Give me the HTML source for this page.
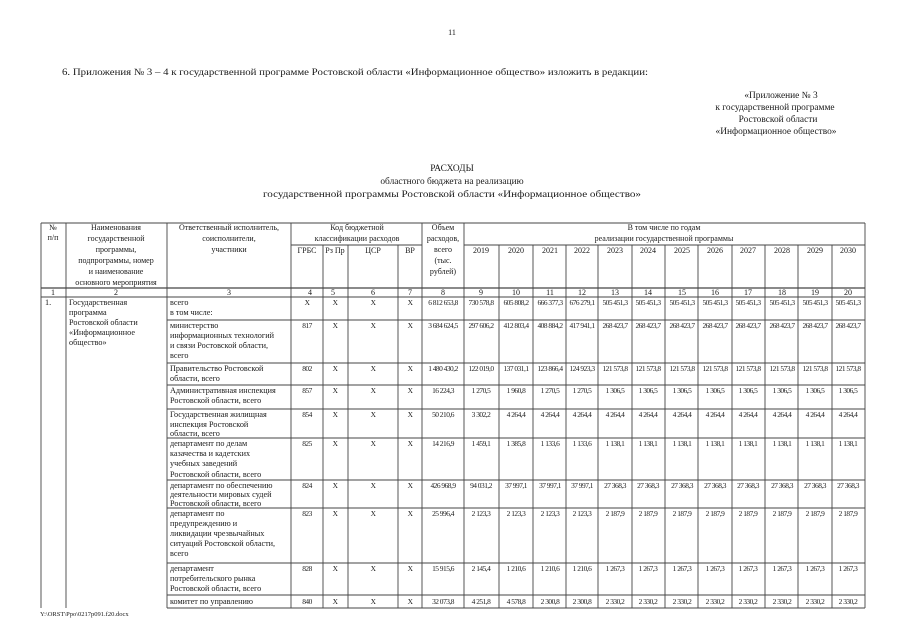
<!DOCTYPE html>
<html><head><meta charset="utf-8"><style>
html,body{margin:0;padding:0;background:#fff;}
svg{display:block;}
text{font-family:"Liberation Serif",serif;fill:#1a1a1a;}
.h{font-size:8px;text-anchor:middle;}
.t{font-size:8.2px;}
.n{font-size:7.4px;text-anchor:middle;letter-spacing:-0.5px;}
.c{text-anchor:middle;}
line{stroke:#444;stroke-width:0.9;}
</style></head><body>
<svg width="905" height="640" viewBox="0 0 905 640" xmlns="http://www.w3.org/2000/svg">
<text x="452" y="35" style="font-size:8px" class="c">11</text>
<text x="62" y="75" style="font-size:9.6px" textLength="586" lengthAdjust="spacingAndGlyphs">6. Приложения № 3 – 4 к государственной программе Ростовской области «Информационное общество» изложить в редакции:</text>
<g style="font-size:9.4px">
<text x="781" y="98" class="c">«Приложение № 3</text>
<text x="775" y="110" class="c">к государственной программе</text>
<text x="778" y="122" class="c">Ростовской области</text>
<text x="776" y="134" class="c">«Информационное общество»</text>
<text x="452" y="171" class="c">РАСХОДЫ</text>
<text x="452" y="184" class="c">областного бюджета на реализацию</text>
<text x="452" y="197" class="c" textLength="378" lengthAdjust="spacingAndGlyphs">государственной программы Ростовской области «Информационное общество»</text>
</g>
<g>
<line x1="41" y1="223" x2="865" y2="223"/>
<line x1="291" y1="245" x2="422" y2="245"/>
<line x1="464" y1="245" x2="865" y2="245"/>
<line x1="41" y1="288" x2="865" y2="288" style="stroke-width:1.3"/>
<line x1="41" y1="297" x2="865" y2="297"/>
<line x1="167" y1="320" x2="865" y2="320"/>
<line x1="167" y1="363" x2="865" y2="363"/>
<line x1="167" y1="385" x2="865" y2="385"/>
<line x1="167" y1="409" x2="865" y2="409"/>
<line x1="167" y1="438" x2="865" y2="438"/>
<line x1="167" y1="480" x2="865" y2="480"/>
<line x1="167" y1="508" x2="865" y2="508"/>
<line x1="167" y1="563" x2="865" y2="563"/>
<line x1="167" y1="595" x2="865" y2="595"/>
<line x1="167" y1="608" x2="865" y2="608"/>
<line x1="41" y1="223" x2="41" y2="608"/>
<line x1="66" y1="223" x2="66" y2="608"/>
<line x1="167" y1="223" x2="167" y2="608"/>
<line x1="291" y1="223" x2="291" y2="608"/>
<line x1="323" y1="245" x2="323" y2="608"/>
<line x1="348" y1="245" x2="348" y2="608"/>
<line x1="398" y1="245" x2="398" y2="608"/>
<line x1="422" y1="223" x2="422" y2="608"/>
<line x1="464" y1="223" x2="464" y2="608"/>
<line x1="499" y1="245" x2="499" y2="608"/>
<line x1="533" y1="245" x2="533" y2="608"/>
<line x1="566" y1="245" x2="566" y2="608"/>
<line x1="598" y1="245" x2="598" y2="608"/>
<line x1="632" y1="245" x2="632" y2="608"/>
<line x1="665" y1="245" x2="665" y2="608"/>
<line x1="698" y1="245" x2="698" y2="608"/>
<line x1="732" y1="245" x2="732" y2="608"/>
<line x1="765" y1="245" x2="765" y2="608"/>
<line x1="798" y1="245" x2="798" y2="608"/>
<line x1="832" y1="245" x2="832" y2="608"/>
<line x1="865" y1="223" x2="865" y2="608"/>
</g>
<g class="h">
<text x="53" y="230">№</text><text x="53" y="240">п/п</text>
<text x="116" y="230">Наименования</text><text x="116" y="241">государственной</text><text x="116" y="252">программы,</text><text x="116" y="263">подпрограммы, номер</text><text x="116" y="274">и наименование</text><text x="116" y="285">основного мероприятия</text>
<text x="229" y="230">Ответственный исполнитель,</text><text x="229" y="241">соисполнители,</text><text x="229" y="252">участники</text>
<text x="357" y="230">Код бюджетной</text><text x="357" y="241">классификации расходов</text>
<text x="307" y="253">ГРБС</text><text x="335" y="253">Рз Пр</text><text x="373" y="253">ЦСР</text><text x="410" y="253">ВР</text>
<text x="443" y="230">Объем</text><text x="443" y="241">расходов,</text><text x="443" y="252">всего</text><text x="443" y="263">(тыс.</text><text x="443" y="274">рублей)</text>
<text x="664" y="230">В том числе по годам</text><text x="664" y="241">реализации государственной программы</text>
<text x="481" y="253">2019</text><text x="516" y="253">2020</text><text x="550" y="253">2021</text><text x="582" y="253">2022</text><text x="615" y="253">2023</text><text x="648" y="253">2024</text><text x="682" y="253">2025</text><text x="715" y="253">2026</text><text x="748" y="253">2027</text><text x="782" y="253">2028</text><text x="815" y="253">2029</text><text x="848" y="253">2030</text>
<text x="53" y="295">1</text><text x="116" y="295">2</text><text x="229" y="295">3</text><text x="310" y="295">4</text><text x="333" y="295">5</text><text x="373" y="295">6</text><text x="410" y="295">7</text><text x="443" y="295">8</text>
<text x="481" y="295">9</text><text x="516" y="295">10</text><text x="550" y="295">11</text><text x="582" y="295">12</text><text x="615" y="295">13</text><text x="648" y="295">14</text><text x="682" y="295">15</text><text x="715" y="295">16</text><text x="748" y="295">17</text><text x="782" y="295">18</text><text x="815" y="295">19</text><text x="848" y="295">20</text>
</g>
<g class="t">
<text x="45" y="305">1.</text>
<text x="69" y="305">Государственная</text><text x="69" y="315">программа</text><text x="69" y="325">Ростовской области</text><text x="69" y="335">«Информационное</text><text x="69" y="345">общество»</text>
<text x="170" y="305">всего</text><text x="170" y="315">в том числе:</text>
<text x="170" y="328">министерство</text><text x="170" y="338">информационных технологий</text><text x="170" y="348">и связи Ростовской области,</text><text x="170" y="358">всего</text>
<text x="170" y="371">Правительство Ростовской</text><text x="170" y="381">области, всего</text>
<text x="170" y="393">Административная инспекция</text><text x="170" y="403">Ростовской области, всего</text>
<text x="170" y="417">Государственная жилищная</text><text x="170" y="427">инспекция Ростовской</text><text x="170" y="436">области, всего</text>
<text x="170" y="446">департамент по делам</text><text x="170" y="456">казачества и кадетских</text><text x="170" y="466">учебных заведений</text><text x="170" y="477">Ростовской области, всего</text>
<text x="170" y="488">департамент по обеспечению</text><text x="170" y="497">деятельности мировых судей</text><text x="170" y="506">Ростовской области, всего</text>
<text x="170" y="516">департамент по</text><text x="170" y="526">предупреждению и</text><text x="170" y="536">ликвидации чрезвычайных</text><text x="170" y="546">ситуаций Ростовской области,</text><text x="170" y="556">всего</text>
<text x="170" y="571">департамент</text><text x="170" y="581">потребительского рынка</text><text x="170" y="591">Ростовской области, всего</text>
<text x="170" y="604">комитет по управлению</text>
</g>
<g class="n">
<text x="307" y="305">Х</text><text x="335" y="305">Х</text><text x="373" y="305">Х</text><text x="410" y="305">Х</text><text x="443" y="305">6 812 653,8</text>
<text x="481" y="305">730 578,8</text><text x="516" y="305">605 808,2</text><text x="550" y="305">666 377,3</text><text x="582" y="305">676 279,1</text><text x="615" y="305">505 451,3</text><text x="648" y="305">505 451,3</text><text x="682" y="305">505 451,3</text><text x="715" y="305">505 451,3</text><text x="748" y="305">505 451,3</text><text x="782" y="305">505 451,3</text><text x="815" y="305">505 451,3</text><text x="848" y="305">505 451,3</text>

<text x="307" y="328">817</text><text x="335" y="328">Х</text><text x="373" y="328">Х</text><text x="410" y="328">Х</text><text x="443" y="328">3 684 624,5</text>
<text x="481" y="328">297 606,2</text><text x="516" y="328">412 803,4</text><text x="550" y="328">408 884,2</text><text x="582" y="328">417 941,1</text><text x="615" y="328">268 423,7</text><text x="648" y="328">268 423,7</text><text x="682" y="328">268 423,7</text><text x="715" y="328">268 423,7</text><text x="748" y="328">268 423,7</text><text x="782" y="328">268 423,7</text><text x="815" y="328">268 423,7</text><text x="848" y="328">268 423,7</text>

<text x="307" y="371">802</text><text x="335" y="371">Х</text><text x="373" y="371">Х</text><text x="410" y="371">Х</text><text x="443" y="371">1 480 430,2</text>
<text x="481" y="371">122 019,0</text><text x="516" y="371">137 031,1</text><text x="550" y="371">123 866,4</text><text x="582" y="371">124 923,3</text><text x="615" y="371">121 573,8</text><text x="648" y="371">121 573,8</text><text x="682" y="371">121 573,8</text><text x="715" y="371">121 573,8</text><text x="748" y="371">121 573,8</text><text x="782" y="371">121 573,8</text><text x="815" y="371">121 573,8</text><text x="848" y="371">121 573,8</text>

<text x="307" y="393">857</text><text x="335" y="393">Х</text><text x="373" y="393">Х</text><text x="410" y="393">Х</text><text x="443" y="393">16 224,3</text>
<text x="481" y="393">1 270,5</text><text x="516" y="393">1 960,8</text><text x="550" y="393">1 270,5</text><text x="582" y="393">1 270,5</text><text x="615" y="393">1 306,5</text><text x="648" y="393">1 306,5</text><text x="682" y="393">1 306,5</text><text x="715" y="393">1 306,5</text><text x="748" y="393">1 306,5</text><text x="782" y="393">1 306,5</text><text x="815" y="393">1 306,5</text><text x="848" y="393">1 306,5</text>

<text x="307" y="417">854</text><text x="335" y="417">Х</text><text x="373" y="417">Х</text><text x="410" y="417">Х</text><text x="443" y="417">50 210,6</text>
<text x="481" y="417">3 302,2</text><text x="516" y="417">4 264,4</text><text x="550" y="417">4 264,4</text><text x="582" y="417">4 264,4</text><text x="615" y="417">4 264,4</text><text x="648" y="417">4 264,4</text><text x="682" y="417">4 264,4</text><text x="715" y="417">4 264,4</text><text x="748" y="417">4 264,4</text><text x="782" y="417">4 264,4</text><text x="815" y="417">4 264,4</text><text x="848" y="417">4 264,4</text>

<text x="307" y="446">825</text><text x="335" y="446">Х</text><text x="373" y="446">Х</text><text x="410" y="446">Х</text><text x="443" y="446">14 216,9</text>
<text x="481" y="446">1 459,1</text><text x="516" y="446">1 385,8</text><text x="550" y="446">1 133,6</text><text x="582" y="446">1 133,6</text><text x="615" y="446">1 138,1</text><text x="648" y="446">1 138,1</text><text x="682" y="446">1 138,1</text><text x="715" y="446">1 138,1</text><text x="748" y="446">1 138,1</text><text x="782" y="446">1 138,1</text><text x="815" y="446">1 138,1</text><text x="848" y="446">1 138,1</text>

<text x="307" y="488">824</text><text x="335" y="488">Х</text><text x="373" y="488">Х</text><text x="410" y="488">Х</text><text x="443" y="488">426 968,9</text>
<text x="481" y="488">94 031,2</text><text x="516" y="488">37 997,1</text><text x="550" y="488">37 997,1</text><text x="582" y="488">37 997,1</text><text x="615" y="488">27 368,3</text><text x="648" y="488">27 368,3</text><text x="682" y="488">27 368,3</text><text x="715" y="488">27 368,3</text><text x="748" y="488">27 368,3</text><text x="782" y="488">27 368,3</text><text x="815" y="488">27 368,3</text><text x="848" y="488">27 368,3</text>

<text x="307" y="516">823</text><text x="335" y="516">Х</text><text x="373" y="516">Х</text><text x="410" y="516">Х</text><text x="443" y="516">25 996,4</text>
<text x="481" y="516">2 123,3</text><text x="516" y="516">2 123,3</text><text x="550" y="516">2 123,3</text><text x="582" y="516">2 123,3</text><text x="615" y="516">2 187,9</text><text x="648" y="516">2 187,9</text><text x="682" y="516">2 187,9</text><text x="715" y="516">2 187,9</text><text x="748" y="516">2 187,9</text><text x="782" y="516">2 187,9</text><text x="815" y="516">2 187,9</text><text x="848" y="516">2 187,9</text>

<text x="307" y="571">828</text><text x="335" y="571">Х</text><text x="373" y="571">Х</text><text x="410" y="571">Х</text><text x="443" y="571">15 915,6</text>
<text x="481" y="571">2 145,4</text><text x="516" y="571">1 210,6</text><text x="550" y="571">1 210,6</text><text x="582" y="571">1 210,6</text><text x="615" y="571">1 267,3</text><text x="648" y="571">1 267,3</text><text x="682" y="571">1 267,3</text><text x="715" y="571">1 267,3</text><text x="748" y="571">1 267,3</text><text x="782" y="571">1 267,3</text><text x="815" y="571">1 267,3</text><text x="848" y="571">1 267,3</text>

<text x="307" y="604">840</text><text x="335" y="604">Х</text><text x="373" y="604">Х</text><text x="410" y="604">Х</text><text x="443" y="604">32 073,8</text>
<text x="481" y="604">4 251,8</text><text x="516" y="604">4 578,8</text><text x="550" y="604">2 300,8</text><text x="582" y="604">2 300,8</text><text x="615" y="604">2 330,2</text><text x="648" y="604">2 330,2</text><text x="682" y="604">2 330,2</text><text x="715" y="604">2 330,2</text><text x="748" y="604">2 330,2</text><text x="782" y="604">2 330,2</text><text x="815" y="604">2 330,2</text><text x="848" y="604">2 330,2</text>
</g>
<text x="40" y="616" style="font-size:6.5px">Y:\ORST\Ppo\0217p091.f20.docx</text>
</svg>
</body></html>
